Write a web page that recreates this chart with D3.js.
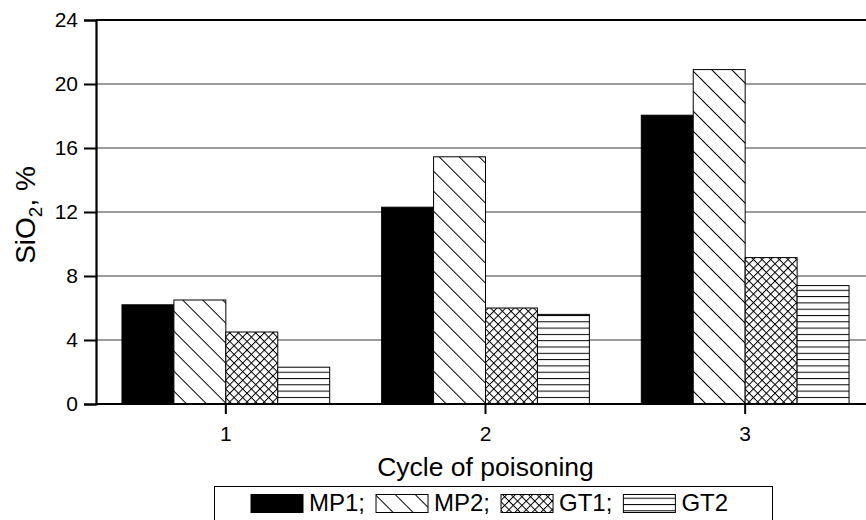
<!DOCTYPE html>
<html>
<head>
<meta charset="utf-8">
<script src="https://cdn.jsdelivr.net/npm/d3@7"></script>
<style>
  html, body { margin: 0; padding: 0; background: #fff; }
  svg { display: block; }
  text { font-family: "Liberation Sans", Arial, sans-serif; fill: #000; }
</style>
</head>
<body>
<svg id="chart" width="866" height="520"></svg>
<script>
// ---- data ----
const categories = ["1", "2", "3"];
const seriesNames = ["MP1", "MP2", "GT1", "GT2"];
const MP1 = [6.2, 12.3, 18.05];
const MP2 = [6.5, 15.45, 20.9];
const GT1 = [4.5, 6.0, 9.15];
const GT2 = [2.3, 5.6, 7.4];
const yTicks = [0, 4, 8, 12, 16, 20, 24];
const xTitle = "Cycle of poisoning";

(function () {
const seriesValues = { MP1, MP2, GT1, GT2 };
const fills = { MP1: "#000", MP2: "url(#hatchDiag)", GT1: "url(#hatchCross)", GT2: "url(#hatchHoriz)" };
const FONT = '"Liberation Sans", Arial, sans-serif';

const svg = d3.select("#chart");
const W = 866;
const pLeft = 96, pRight = 875, pTop = 20, pBottom = 404;

// patterns
const defs = svg.append("defs");
const pd = defs.append("pattern").attr("id", "hatchDiag").attr("patternUnits", "userSpaceOnUse")
  .attr("width", 14.14).attr("height", 14.14).attr("patternTransform", "rotate(-45)");
pd.append("rect").attr("width", 14.14).attr("height", 14.14).attr("fill", "#fff");
pd.append("line").attr("x1", 0.5).attr("y1", 0).attr("x2", 0.5).attr("y2", 14.14).attr("stroke", "#000").attr("stroke-width", 1);

const pc = defs.append("pattern").attr("id", "hatchCross").attr("patternUnits", "userSpaceOnUse")
  .attr("width", 6.1).attr("height", 6.1).attr("patternTransform", "rotate(45)");
pc.append("rect").attr("width", 6.1).attr("height", 6.1).attr("fill", "#fff");
pc.append("line").attr("x1", 0.5).attr("y1", 0).attr("x2", 0.5).attr("y2", 6.1).attr("stroke", "#000").attr("stroke-width", 1);
pc.append("line").attr("x1", 0).attr("y1", 0.5).attr("x2", 6.1).attr("y2", 0.5).attr("stroke", "#000").attr("stroke-width", 1);

const ph = defs.append("pattern").attr("id", "hatchHoriz").attr("patternUnits", "userSpaceOnUse")
  .attr("width", 10).attr("height", 6.3);
ph.append("rect").attr("width", 10).attr("height", 6.3).attr("fill", "#fff");
ph.append("line").attr("x1", 0).attr("y1", 0.5).attr("x2", 10).attr("y2", 0.5).attr("stroke", "#000").attr("stroke-width", 1);

// scales
const x0 = d3.scaleBand().domain(categories).range([pLeft, pRight]).paddingInner(0.2).paddingOuter(0.1);
const x1 = d3.scaleBand().domain(seriesNames).range([0, x0.bandwidth()]).padding(0);
const y = d3.scaleLinear().domain([0, 24]).range([pBottom, pTop]);

// gridlines
svg.append("g").selectAll("line").data(yTicks.filter(t => t > 0 && t < 24)).join("line")
  .attr("x1", pLeft).attr("x2", W).attr("y1", d => y(d)).attr("y2", d => y(d))
  .attr("stroke", "#7a7a7a").attr("stroke-width", 1.5);
// top frame line
svg.append("line").attr("x1", pLeft).attr("x2", W).attr("y1", y(24)).attr("y2", y(24))
  .attr("stroke", "#000").attr("stroke-width", 2);

// bars
const groups = svg.append("g").selectAll("g").data(categories).join("g")
  .attr("transform", d => `translate(${x0(d)},0)`);
groups.selectAll("rect").data((c, i) => seriesNames.map(s => ({ s, v: seriesValues[s][i] }))).join("rect")
  .attr("x", d => x1(d.s)).attr("width", x1.bandwidth())
  .attr("y", d => y(d.v)).attr("height", d => y(0) - y(d.v))
  .attr("fill", d => fills[d.s]).attr("stroke", "#000").attr("stroke-width", 1);

// y axis
const yAxis = d3.axisLeft(y).tickValues(yTicks).tickSize(12).tickPadding(6);
const gy = svg.append("g").attr("transform", `translate(${pLeft},0)`).call(yAxis);
gy.select(".domain").attr("stroke", "#000").attr("stroke-width", 2.2);
gy.selectAll(".tick line").attr("stroke", "#000").attr("stroke-width", 2);
gy.selectAll(".tick text").style("font-size", "21px").style("font-family", FONT).attr("fill", "#000");

// x axis
const xAxis = d3.axisBottom(x0).tickSize(10).tickPadding(12).tickSizeOuter(0);
const gx = svg.append("g").attr("transform", `translate(0,${pBottom})`).call(xAxis);
gx.select(".domain").attr("stroke", "#000").attr("stroke-width", 2.2).attr("d", `M${pLeft},0H${W}`);
gx.selectAll(".tick line").attr("stroke", "#000").attr("stroke-width", 2);
gx.selectAll(".tick text").style("font-size", "21px").style("font-family", FONT).attr("fill", "#000");

// axis titles
svg.append("text").attr("x", (pLeft + pRight) / 2).attr("y", 476).attr("text-anchor", "middle")
  .style("font-size", "26.5px").text(xTitle);

const yt = svg.append("text").attr("transform", `translate(35,${(pTop + pBottom) / 2 + 3}) rotate(-90)`)
  .attr("text-anchor", "middle").style("font-size", "28px");
yt.append("tspan").text("SiO");
yt.append("tspan").text("2").style("font-size", "19px").attr("dy", 7);
yt.append("tspan").text(", %").attr("dy", -7);

// legend
const leg = svg.append("g");
leg.append("rect").attr("x", 214.5).attr("y", 486.5).attr("width", 558).attr("height", 60)
  .attr("fill", "#fff").attr("stroke", "#000").attr("stroke-width", 1);
let lx = 251;
seriesNames.forEach((s, i) => {
  leg.append("rect").attr("x", lx).attr("y", 494.5).attr("width", 52).attr("height", 18)
    .attr("fill", fills[s]).attr("stroke", "#000").attr("stroke-width", 1);
  const t = leg.append("text").attr("x", lx + 58).attr("y", 511).style("font-size", "24px")
    .text(s + (i < seriesNames.length - 1 ? ";" : ""));
  lx = lx + 58 + t.node().getComputedTextLength() + 11;
});
})();
</script>
</body>
</html>
